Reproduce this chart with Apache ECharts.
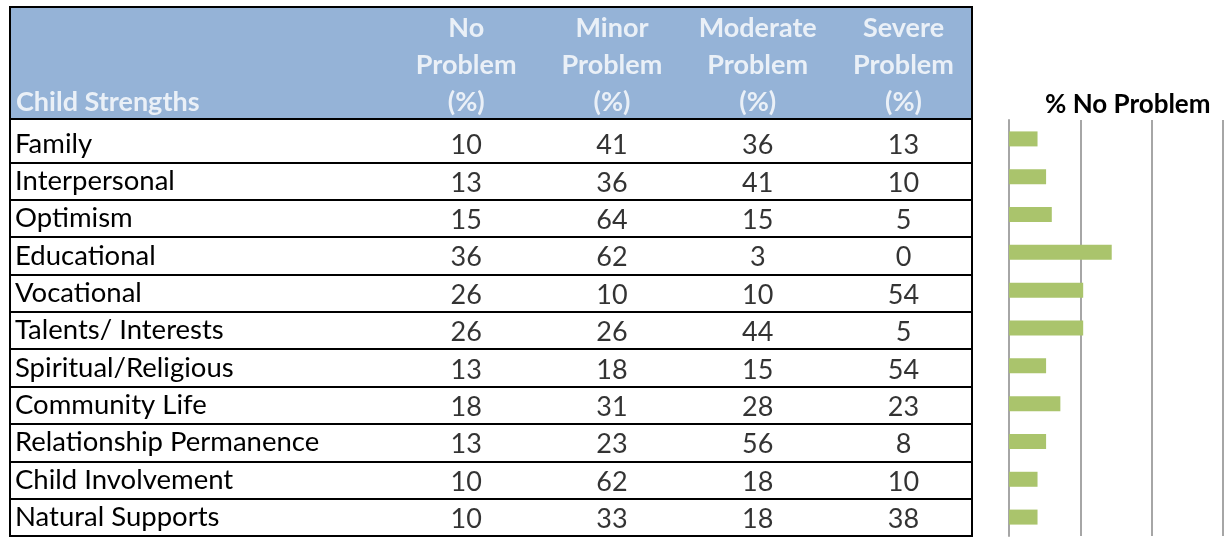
<!DOCTYPE html>
<html>
<head>
<meta charset="utf-8">
<script src="https://cdn.jsdelivr.net/npm/echarts@6/dist/echarts.min.js"></script>
<style>
	html, body { margin: 0; padding: 0; background: #fff; }
	#main { width: 1224px; height: 537px; }
</style>
</head>
<body>
<div id="main"></div>
<script>
// table data
const strengths = ['Family', 'Interpersonal', 'Optimism', 'Educational', 'Vocational', 'Talents/ Interests', 'Spiritual/Religious', 'Community Life', 'Relationship Permanence', 'Child Involvement', 'Natural Supports']
const noProblem = [10, 13, 15, 36, 26, 26, 13, 18, 13, 10, 10]
const minorProblem = [41, 36, 64, 62, 10, 26, 18, 31, 23, 62, 33]
const moderateProblem = [36, 41, 15, 3, 10, 44, 15, 28, 56, 18, 18]
const severeProblem = [13, 10, 5, 0, 54, 5, 54, 23, 8, 10, 38]
const firstHeader = 'Child Strengths'
const columnHeaders = ['No\nProblem\n(%)', 'Minor\nProblem\n(%)', 'Moderate\nProblem\n(%)', 'Severe\nProblem\n(%)']
const chartTitle = '% No Problem'

const font = 'Lato'
const columns = [noProblem, minorProblem, moderateProblem, severeProblem]
// column 1..4 centres, table edges at xMin / xMax
const xMin = -2.13, xMax = 4.47

const cells = []
columns.forEach((col, c) => {
	col.forEach((v, r) => cells.push([c + 1, r, v]))
})

const headerCells = [{
	value: [xMin, 0, firstHeader],
	label: { align: 'left', offset: [6, 0] }
}].concat(columnHeaders.map((h, i) => ({ value: [i + 1, 0, h] })))

const gray = '#A6A6A6'

echarts.init(document.getElementById('main')).setOption({
	animation: false,
	title: {
		text: chartTitle,
		left: 1040,
		top: 87,
		textStyle: { fontFamily: font, fontWeight: 'bold', fontSize: 26, color: '#000' }
	},
	grid: [
		// outer frame of the table
		{ left: 10, right: 252, top: 7, bottom: 1, show: true, borderColor: '#000', borderWidth: 2, backgroundColor: 'transparent' },
		// header
		{ left: 10, right: 252, top: 7, height: 112, show: true, borderColor: '#000', borderWidth: 2, backgroundColor: '#95B3D7' },
		// body rows
		{ left: 10, right: 252, top: 125, bottom: 1 },
		// bar chart
		{ left: 1009, right: 1, top: 120, bottom: 1 }
	],
	xAxis: [
		{ gridIndex: 0, show: false },
		{ gridIndex: 1, type: 'value', min: xMin, max: xMax, show: false },
		{ gridIndex: 2, type: 'value', min: xMin, max: xMax, show: false },
		{
			gridIndex: 3,
			type: 'value',
			min: 0,
			max: 75,
			interval: 25,
			axisLabel: { show: false },
			axisLine: { show: false },
			axisTick: { show: false },
			splitLine: { lineStyle: { color: gray, width: 2 } }
		}
	],
	yAxis: [
		{ gridIndex: 0, show: false },
		{ gridIndex: 1, type: 'value', min: 0, max: 1, show: false },
		{
			gridIndex: 2,
			type: 'category',
			inverse: true,
			data: strengths,
			axisLine: { show: false },
			axisTick: { show: false },
			axisLabel: { inside: true, margin: 5, padding: [4, 0, 0, 0], fontFamily: font, fontSize: 27.5, color: '#000' },
			splitLine: { show: true, showMinLine: false, lineStyle: { color: '#000', width: 2 } }
		},
		{
			gridIndex: 3,
			type: 'category',
			inverse: true,
			data: strengths,
			axisLabel: { show: false },
			axisLine: { lineStyle: { color: gray, width: 2 } },
			axisTick: { length: 8, lineStyle: { color: gray, width: 2 } }
		}
	],
	series: [
		{
			type: 'scatter',
			xAxisIndex: 1,
			yAxisIndex: 1,
			silent: true,
			symbolSize: 1,
			itemStyle: { color: 'transparent' },
			label: {
				show: true,
				position: 'top',
				distance: -2,
				formatter: p => p.value[2],
				fontFamily: font,
				fontWeight: 'bold',
				fontSize: 27,
				lineHeight: 37,
				color: '#fff'
			},
			data: headerCells
		},
		{
			type: 'scatter',
			xAxisIndex: 2,
			yAxisIndex: 2,
			silent: true,
			symbolSize: 1,
			itemStyle: { color: 'transparent' },
			label: {
				show: true,
				position: 'inside',
				offset: [0, 2],
				formatter: p => p.value[2],
				fontFamily: font,
				fontSize: 27,
				color: '#000'
			},
			data: cells
		},
		{
			type: 'bar',
			xAxisIndex: 3,
			yAxisIndex: 3,
			barWidth: 15,
			itemStyle: { color: '#AAC46C' },
			data: noProblem
		}
	]
})
</script>
</body>
</html>
